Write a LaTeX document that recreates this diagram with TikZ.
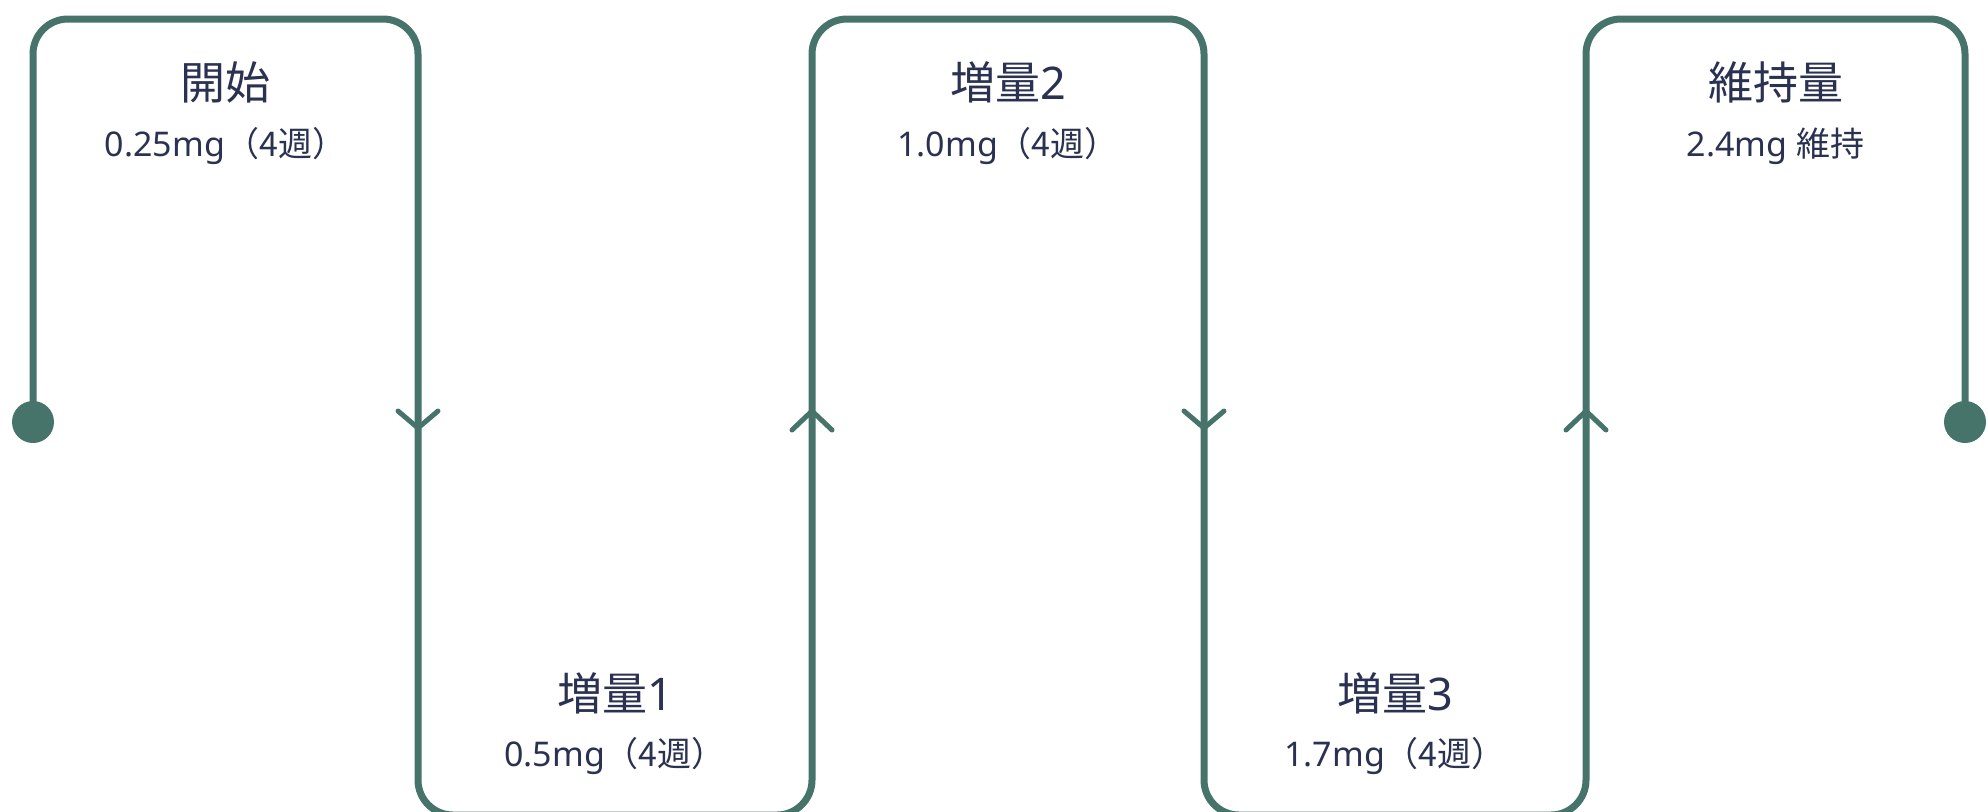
\documentclass[tikz,border=0pt]{standalone}
\usepackage{fontspec}
\setmainfont{Noto Sans}
\newfontfamily\jp{Noto Sans CJK JP}
\definecolor{routegreen}{HTML}{46746A}
\definecolor{labelink}{HTML}{2A3151}
\tikzset{
  route/.style={draw=routegreen, line width=3.5pt, rounded corners=17.5pt},
  chevron/.style={draw=routegreen, line width=2.5pt, line cap=round, line join=round},
  stage/.style={text=labelink, font=\fontsize{22.5}{27}\selectfont},
  dose/.style={text=labelink, font=\fontsize{17}{20}\selectfont}
}
\begin{document}
\begin{tikzpicture}[x=0.5pt,y=-0.5pt]
		\useasboundingbox (0,0) rectangle (1988,811);
		% turning points of the route
		\coordinate (start) at (33,422);
		\coordinate (c1) at (33,19);
		\coordinate (c2) at (418,19);
		\coordinate (c3) at (418,815);
		\coordinate (c4) at (812,815);
		\coordinate (c5) at (812,19);
		\coordinate (c6) at (1204,19);
		\coordinate (c7) at (1204,815);
		\coordinate (c8) at (1586,815);
		\coordinate (c9) at (1586,19);
		\coordinate (c10) at (1965,19);
		\coordinate (finish) at (1965,422);
		\draw[route] (start) -- (c1) -- (c2) -- (c3) -- (c4) -- (c5) -- (c6) -- (c7) -- (c8) -- (c9) -- (c10) -- (finish);
		\fill[routegreen] (start) circle (10.5pt);
		\fill[routegreen] (finish) circle (10.5pt);
		\foreach \x in {418,1204}
    \draw[chevron] (\x-20,411) -- (\x,428) -- (\x+20,411);
		\foreach \x in {812,1586}
    \draw[chevron] (\x-20,430) -- (\x,411) -- (\x+20,430);
		\node[stage] (start title) at (225.5,82) {\jp 開始};
		\node[dose] (start dose) at (225.5,146) {0.25mg{\jp（4週）}};
		\node[stage] (step1 title) at (615,693) {{\jp 増量}1};
		\node[dose] (step1 dose) at (615,756) {0.5mg{\jp（4週）}};
		\node[stage] (step2 title) at (1008,82) {{\jp 増量}2};
		\node[dose] (step2 dose) at (1008,146) {1.0mg{\jp（4週）}};
		\node[stage] (step3 title) at (1395,693) {{\jp 増量}3};
		\node[dose] (step3 dose) at (1395,756) {1.7mg{\jp（4週）}};
		\node[stage] (keep title) at (1775.5,82) {\jp 維持量};
		\node[dose] (keep dose) at (1775.5,146) {2.4mg {\jp 維持}};
	\end{tikzpicture}
\end{document}
